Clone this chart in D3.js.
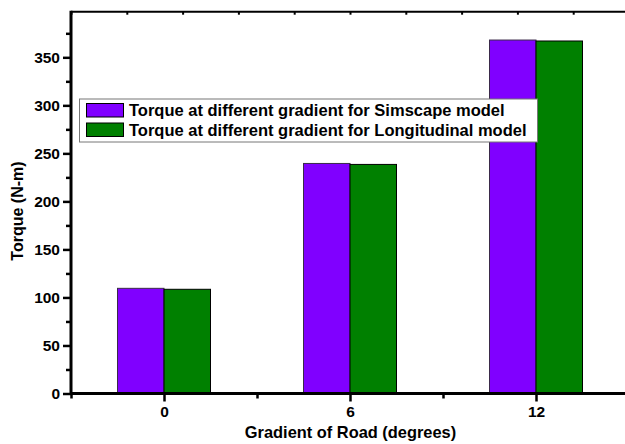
<!DOCTYPE html>
<html>
<head>
<meta charset="utf-8">
<script src="https://cdn.jsdelivr.net/npm/d3@7"></script>
<style>
  body { margin: 0; background: #fff; }
  svg text { font-family: "Liberation Sans", Arial, sans-serif; font-weight: bold; fill: #000; }
</style>
</head>
<body>
<div id="chart"></div>
<script>
let gradients = [0, 6, 12];
let simscape = [109.5, 239.5, 368];
let longitudinal = [108.5, 238.5, 367];
let seriesNames = ["Torque at different gradient for Simscape model", "Torque at different gradient for Longitudinal model"];
let colors = ["#8000ff", "#008000"];
let yTicks = [0, 50, 100, 150, 200, 250, 300, 350];

let width = 625, height = 444;
let svg = d3.select("#chart").append("svg").attr("width", width).attr("height", height);

let x = d3.scaleLinear().domain([-3, 15]).range([71, 629]);
let y = d3.scaleLinear().domain([0, 397.5]).range([393.5, 11.7]);
let barw = 1.5;

// bars
let series = [simscape, longitudinal];
series.forEach(function(vals, si){
    svg.append("g").selectAll("rect")
        .data(gradients)
        .enter().append("rect")
        .attr("x", (d) => si == 0 ? x(d - barw) : x(d))
        .attr("width", x(barw) - x(0))
        .attr("y", (d, i) => y(vals[i]))
        .attr("height", (d, i) => y(0) - y(vals[i]))
        .style("fill", colors[si])
        .style("stroke", si == 0 ? "#3a2a4a" : "#000")
        .style("stroke-width", 1);
});

// top frame with small inward ticks
svg.append("line")
    .attr("x1", x(-3)).attr("x2", width).attr("y1", y.range()[1]).attr("y2", y.range()[1])
    .style("stroke", "#000").style("stroke-width", 2);
let topTicks = d3.range(0, 11).map(k => -3 + 1.8 * k);
let topAxis = d3.axisBottom(x).tickValues(topTicks).tickSize(3).tickFormat("");
svg.append("g").attr("class", "top-axis")
    .attr("transform", "translate(0," + y.range()[1] + ")")
    .call(topAxis);

// y axis
let yMinor = d3.range(25, 400, 50);
svg.append("g").attr("class", "y-minor")
    .attr("transform", "translate(" + x(-3) + ",0)")
    .call(d3.axisLeft(y).tickValues(yMinor).tickSize(5).tickFormat(""));
svg.append("g").attr("class", "y-axis")
    .attr("transform", "translate(" + x(-3) + ",0)")
    .call(d3.axisLeft(y).tickValues(yTicks).tickSize(8).tickPadding(3));

// x axis
svg.append("g").attr("class", "x-minor")
    .attr("transform", "translate(0," + y(0) + ")")
    .call(d3.axisBottom(x).tickValues([-3, 3, 9]).tickSize(5).tickFormat(""));
svg.append("g").attr("class", "x-axis")
    .attr("transform", "translate(0," + y(0) + ")")
    .call(d3.axisBottom(x).tickValues(gradients).tickSize(8).tickPadding(4));

svg.selectAll(".x-axis .domain, .x-minor .domain, .y-minor .domain, .top-axis .domain").remove();
svg.selectAll(".tick line").style("stroke", "#000").style("stroke-width", 2.5);
svg.selectAll(".top-axis .tick line").style("stroke-width", 2);
svg.selectAll(".tick text").style("font-size", "15.5px");

svg.select(".y-axis .domain").remove();
svg.append("line")
    .attr("x1", x(-3)).attr("x2", x(-3)).attr("y1", y.range()[1] - 1).attr("y2", y(0) + 1)
    .style("stroke", "#000").style("stroke-width", 3);
svg.append("line")
    .attr("x1", x(-3) - 1).attr("x2", width).attr("y1", y(0)).attr("y2", y(0))
    .style("stroke", "#000").style("stroke-width", 3);

// axis titles
svg.append("text")
    .attr("transform", "translate(22.5," + 211 + ") rotate(-90)")
    .style("text-anchor", "middle").style("font-size", "16px")
    .text("Torque (N-m)");
svg.append("text")
    .attr("x", 350.5).attr("y", 438)
    .style("text-anchor", "middle").style("font-size", "16.4px")
    .text("Gradient of Road (degrees)");

// legend
let leg = svg.append("g").attr("transform", "translate(79.5,99)");
leg.append("rect")
    .attr("width", 458).attr("height", 43)
    .style("fill", "#fff").style("stroke", "#777").style("stroke-width", 1);
seriesNames.forEach(function(name, i){
    let row = leg.append("g").attr("transform", "translate(7," + (4.5 + i * 19.5) + ")");
    row.append("rect")
        .attr("width", 37).attr("height", 13.5)
        .style("fill", colors[i]).style("stroke", "#000").style("stroke-width", 1);
    row.append("text")
        .attr("x", 42.5).attr("y", 12.5)
        .style("font-size", "16.5px")
        .text(name);
});
</script>
</body>
</html>
